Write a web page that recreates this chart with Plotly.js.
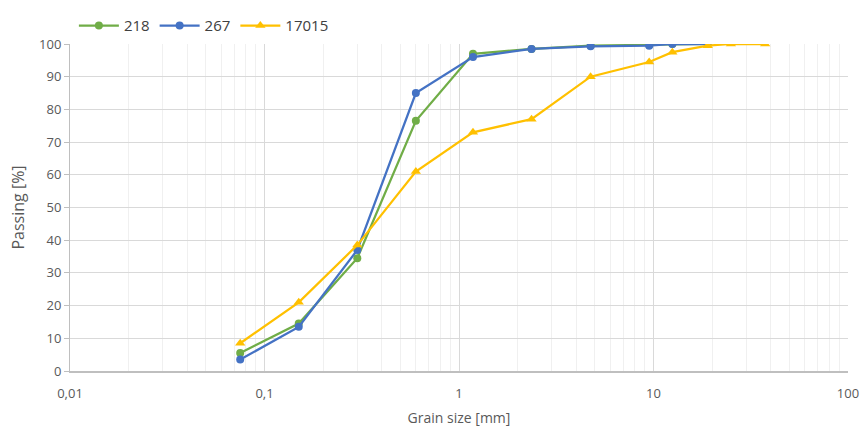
<!DOCTYPE html>
<html>
<head>
<meta charset="utf-8">
<script src="https://cdn.plot.ly/plotly-3.0.1.min.js"></script>
<style>html,body{margin:0;padding:0;background:#fff}#chart{width:860px;height:430px}</style>
</head>
<body>
<div id="chart"></div>
<script>
const sieves = [0.075, 0.15, 0.3, 0.6, 1.18, 2.36, 4.75, 9.5, 12.5, 19, 25, 37.5];
const series218 = [5.5, 14.5, 34.5, 76.5, 97, 98.5, 99.5, 99.7, 100, 100];
const series267 = [3.5, 13.5, 37, 85, 96, 98.5, 99.3, 99.5, 100, 100];
const series17015 = [8.5, 21, 38.5, 61, 73, 77, 90, 94.5, 97.5, 99.5, 100, 100];
const xTickVals = [0.01, 0.1, 1, 10, 100];
const xTickText = ['0,01', '0,1', '1', '10', '100'];
const yTickVals = [0, 10, 20, 30, 40, 50, 60, 70, 80, 90, 100];

const traces = [
  {name: '218', x: sieves.slice(0, series218.length), y: series218, mode: 'lines+markers',
   line: {color: '#70AD47', width: 2.25}, marker: {symbol: 'circle', size: 8, color: '#70AD47'}},
  {name: '267', x: sieves.slice(0, series267.length), y: series267, mode: 'lines+markers',
   line: {color: '#4472C4', width: 2.25}, marker: {symbol: 'circle', size: 8, color: '#4472C4'}},
  {name: '17015', x: sieves.slice(0, series17015.length), y: series17015, mode: 'lines+markers',
   line: {color: '#FFC000', width: 2.25}, marker: {symbol: 'triangle-up', size: 9, color: '#FFC000'}}
];

const layout = {
  width: 860, height: 430,
  margin: {l: 70, r: 12, t: 44, b: 59, autoexpand: false},
  paper_bgcolor: '#fff', plot_bgcolor: '#fff',
  font: {family: 'Open Sans, sans-serif', color: '#595959', size: 13},
  showlegend: true,
  legend: {orientation: 'h', x: 0.005, xanchor: 'left', y: 1.005, yanchor: 'bottom',
           font: {size: 15, color: '#404040'}, itemwidth: 40, tracegroupgap: 0},
  xaxis: {
    type: 'log', range: [-2, 2],
    tickvals: xTickVals, ticktext: xTickText,
    showgrid: true, gridcolor: '#d9d9d9', gridwidth: 1,
    minor: {dtick: 'D1', showgrid: true, gridcolor: '#f0f0f0', gridwidth: 1},
    showline: true, linecolor: '#bfbfbf', linewidth: 1.5,
    ticks: 'outside', ticklen: 10, tickcolor: 'rgba(0,0,0,0)', zeroline: false,
    title: {text: 'Grain size [mm]', font: {size: 14, color: '#595959'}, standoff: 12}
  },
  yaxis: {
    range: [0, 100], tickvals: yTickVals,
    showgrid: true, gridcolor: '#d9d9d9', gridwidth: 1,
    showline: true, linecolor: '#bfbfbf', linewidth: 1,
    ticks: 'outside', ticklen: 5, tickcolor: '#bfbfbf',
    zeroline: false,
    title: {text: 'Passing [%]', font: {size: 16, color: '#595959'}, standoff: 10}
  }
};

Plotly.newPlot('chart', traces, layout, {displayModeBar: false, staticPlot: true});
</script>
</body>
</html>
